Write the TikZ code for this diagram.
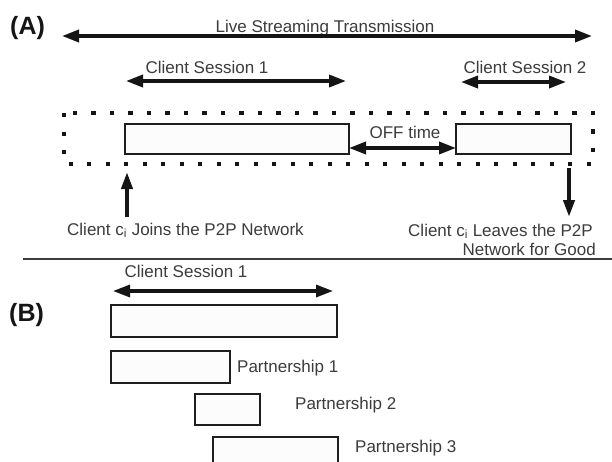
\documentclass[tikz,border=0pt]{standalone}
\usepackage{fontspec}
\setmainfont{Liberation Sans}
\usetikzlibrary{arrows.meta}
\definecolor{txt}{HTML}{3C3C3C}
\definecolor{ink}{HTML}{151515}
\definecolor{boxline}{HTML}{1E1E1E}
\definecolor{boxfill}{HTML}{FCFCFC}
\tikzset{
  lbl/.style={text=txt, inner sep=0pt, font=\fontsize{17}{20}\selectfont},
  panel/.style={text=ink, inner sep=0pt, font=\fontsize{25}{28}\selectfont\bfseries},
  dbl/.style={draw=ink, line width=3.6pt,
    {Triangle[length=17pt,width=12pt]}-{Triangle[length=17pt,width=12pt]}},
  sgl/.style={draw=ink, line width=4pt, -{Triangle[length=17pt,width=11pt]}},
  sessbox/.style={draw=boxline, fill=boxfill, line width=2.8pt, rectangle,
    inner sep=0pt, outer sep=0pt, anchor=north west},
  dotframe/.style={draw=ink, line width=4.2pt, dash pattern=on 4.2pt off 14.3pt},
  rule/.style={draw=txt, line width=1.3pt}
}
\begin{document}
\begin{tikzpicture}[x=1pt, y=-1pt]
  \useasboundingbox (0,0) rectangle (612,461);
  \fill[white] (0,0) rectangle (612,461);
  \clip (0,0) rectangle (612,461);

  % ---------- panel A ----------
  \node[panel, anchor=base west] (pa) at (10,34) {(A)};

  \node[lbl, anchor=base] (live) at (325,32) {Live Streaming Transmission};
  \coordinate (liveL) at (62,36);
  \coordinate (liveR) at (592,36);
  \draw[dbl] (liveL) -- (liveR);

  \node[lbl, anchor=base] (cs1) at (207,73) {Client Session 1};
  \coordinate (cs1L) at (126,81);
  \coordinate (cs1R) at (346,81);
  \draw[dbl] (cs1L) -- (cs1R);

  \node[lbl, anchor=base] (cs2) at (525,73) {Client Session 2};
  \coordinate (cs2L) at (461,82);
  \coordinate (cs2R) at (566,82);
  \draw[dbl] (cs2L) -- (cs2R);

  % lifetime of the client in the overlay
  \draw[dotframe] (64,113) rectangle (593,164);

  \node[sessbox, minimum width=224pt, minimum height=30pt] (s1) at (125,124) {};
  \node[sessbox, minimum width=115pt, minimum height=30pt] (s2) at (456,124) {};

  \node[lbl, anchor=base] (off) at (405,138) {OFF time};
  \coordinate (offy) at (0,148);
  \draw[dbl] (s1.east |- offy) -- (s2.west |- offy);

  \node[lbl, anchor=base west] (join) at (67,235) {Client c\textsubscript{i} Joins the P2P Network};
  \coordinate (joinB) at (127,217);
  \coordinate (joinT) at (127,172);
  \draw[sgl] (joinB) -- (joinT);

  \node[lbl, anchor=base east] (leave1) at (593,236) {Client c\textsubscript{i} Leaves the P2P};
  \node[lbl, anchor=base east] (leave2) at (596,255) {Network for Good};
  \coordinate (leaveT) at (569,168);
  \coordinate (leaveB) at (569,217);
  \draw[sgl] (leaveT) -- (leaveB);

  \coordinate (ruleL) at (23,259);
  \coordinate (ruleR) at (612,259);
  \draw[rule] (ruleL) -- (ruleR);

  % ---------- panel B ----------
  \node[panel, anchor=base west] (pb) at (9,321) {(B)};

  \node[lbl, anchor=base] (bcs) at (186,277) {Client Session 1};
  \coordinate (bcsL) at (113,291);
  \coordinate (bcsR) at (333,291);
  \draw[dbl, line width=3.2pt] (bcsL) -- (bcsR);

  \node[sessbox, minimum width=226pt, minimum height=32pt] (bs) at (111,305) {};
  \node[sessbox, minimum width=119pt, minimum height=32pt] (p1) at (111,351) {};
  \node[sessbox, minimum width=65pt, minimum height=31pt] (p2) at (195,394) {};
  \node[sessbox, minimum width=125pt, minimum height=40pt] (p3) at (213,437) {};

  \node[lbl, anchor=base west] (p1t) at (237,372) {Partnership 1};
  \node[lbl, anchor=base west] (p2t) at (295,409) {Partnership 2};
  \node[lbl, anchor=base west] (p3t) at (355,452) {Partnership 3};
\end{tikzpicture}
\end{document}
